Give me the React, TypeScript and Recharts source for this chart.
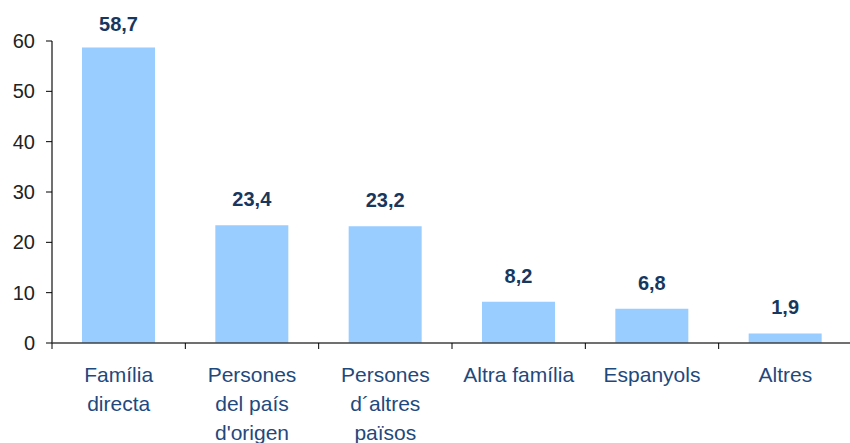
import { BarChart, Bar, XAxis, YAxis, LabelList } from "recharts";

const categories = [
  "Família directa",
  "Persones del país d'origen",
  "Persones d´altres països",
  "Altra família",
  "Espanyols",
  "Altres",
];
const tickLines = [
  ["Família", "directa"],
  ["Persones", "del país", "d'origen"],
  ["Persones", "d´altres", "països"],
  ["Altra família"],
  ["Espanyols"],
  ["Altres"],
];
const values = [58.7, 23.4, 23.2, 8.2, 6.8, 1.9];
const yTicks = [0, 10, 20, 30, 40, 50, 60];

const data = categories.map((name, i) => ({ name, value: values[i] }));

const font = "'Liberation Sans', Arial, sans-serif";
const W = 850;
const LEFT = 52;
const half = (W + 2 - LEFT) / categories.length / 2;

const CategoryTick = ({ x, y, index }: any) => {
  const lines = tickLines[index] || [];
  const axisY = y - 8;
  return (
    <g>
      <line x1={x - half} x2={x - half} y1={axisY} y2={axisY + 6} stroke="#000" />
      {index === categories.length - 1 && (
        <line x1={x + half} x2={x + half} y1={axisY} y2={axisY + 6} stroke="#000" />
      )}
      <text x={x} y={y} textAnchor="middle" fill="#1F497D" fontSize={21} fontFamily={font}>
        {lines.map((l, i) => (
          <tspan key={i} x={x} y={axisY + 39 + i * 29}>
            {l}
          </tspan>
        ))}
      </text>
    </g>
  );
};

const ValueLabel = ({ x, y, width, value }: any) => {
  const ty = Math.max(y - 19, 31);
  return (
    <text
      x={x + width / 2}
      y={ty}
      textAnchor="middle"
      fill="#17375E"
      fontSize={20}
      fontWeight="bold"
      fontFamily={font}
    >
      {String(value).replace(".", ",")}
    </text>
  );
};

export default function App() {
  return (
    <div style={{ position: "absolute", left: 0, top: 0, width: W, height: 443, background: "#fff" }}>
      <BarChart
        width={W}
        height={443}
        data={data}
        margin={{ top: 41, right: -2, left: 0, bottom: 0 }}
        barSize={73}
      >
        <XAxis
          dataKey="name"
          height={100}
          interval={0}
          tick={<CategoryTick />}
          tickLine={false}
          tickSize={6}
          axisLine={{ stroke: "#404040", strokeWidth: 1.5 }}
        />
        <YAxis
          width={LEFT}
          domain={[0, 60]}
          ticks={yTicks}
          tickSize={6}
          tickMargin={11}
          tick={{ fill: "#222", fontSize: 20, fontFamily: font }}
          axisLine={{ stroke: "#404040", strokeWidth: 1.5 }}
          tickLine={{ stroke: "#000" }}
        />
        <Bar dataKey="value" fill="#99CCFF" isAnimationActive={false}>
          <LabelList dataKey="value" content={<ValueLabel />} />
        </Bar>
      </BarChart>
    </div>
  );
}
